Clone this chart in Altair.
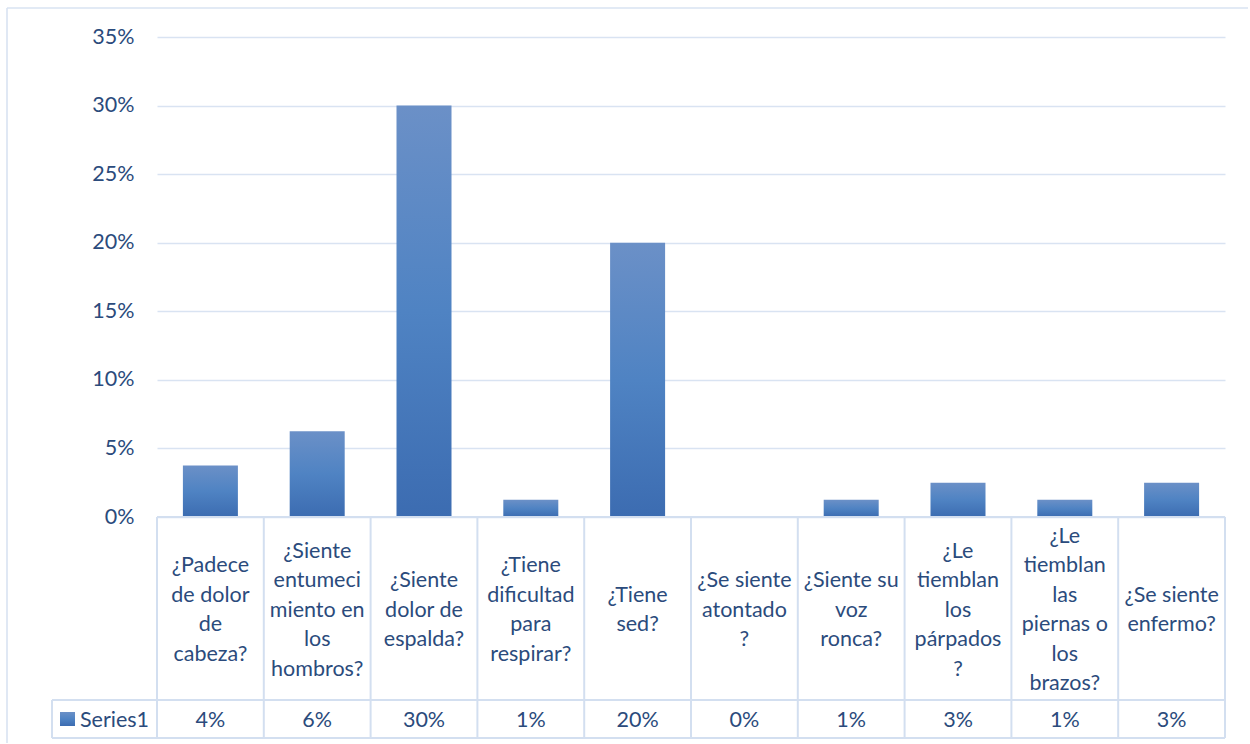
import altair as alt
import pandas as pd

# ---- data ----
questions = [
    "¿Padece de dolor de cabeza?",
    "¿Siente entumecimiento en los hombros?",
    "¿Siente dolor de espalda?",
    "¿Tiene dificultad para respirar?",
    "¿Tiene sed?",
    "¿Se siente atontado?",
    "¿Siente su voz ronca?",
    "¿Le tiemblan los párpados?",
    "¿Le tiemblan las piernas o los brazos?",
    "¿Se siente enfermo?",
]
label_lines = [
    ["¿Padece", "de dolor", "de", "cabeza?"],
    ["¿Siente", "entumeci", "miento en", "los", "hombros?"],
    ["¿Siente", "dolor de", "espalda?"],
    ["¿Tiene", "dificultad", "para", "respirar?"],
    ["¿Tiene", "sed?"],
    ["¿Se siente", "atontado", "?"],
    ["¿Siente su", "voz", "ronca?"],
    ["¿Le", "tiemblan", "los", "párpados", "?"],
    ["¿Le", "tiemblan", "las", "piernas o", "los", "brazos?"],
    ["¿Se siente", "enfermo?"],
]
values = [0.0375, 0.0625, 0.30, 0.0125, 0.20, 0.0, 0.0125, 0.025, 0.0125, 0.025]
series_name = "Series1"
y_ticks = [0, 0.05, 0.10, 0.15, 0.20, 0.25, 0.30, 0.35]

FONT = "Lato"
FS = 21.5
TXT = "#2B4B7C"
GRID = "#D9E3F2"
LINE = "#D3DFF0"
W, H = 1068, 480
TH = 221
LH = 29.5
LABEL_MID = 93.5
VAL_Y = 203.5

df = pd.DataFrame({
    "q": questions,
    "label": ["\n".join(l) for l in label_lines],
    "n": [len(l) for l in label_lines],
    "v": values,
})

grad = alt.Gradient(
    gradient="linear", x1=0, x2=0, y1=0, y2=1,
    stops=[alt.GradientStop(color="#6B90C7", offset=0),
           alt.GradientStop(color="#4F83C3", offset=0.5),
           alt.GradientStop(color="#3C6CB1", offset=1)],
)

one = alt.Chart(pd.DataFrame({"a": [0]}))

bars = alt.Chart(df).mark_bar(color=grad).encode(
    x=alt.X("q:N", sort=None, axis=None,
            scale=alt.Scale(paddingInner=0.485, paddingOuter=0.2425)),
    y=alt.Y("v:Q", scale=alt.Scale(domain=[0, 0.35], nice=False),
            axis=alt.Axis(values=y_ticks, format=".0%", title=None, domain=False,
                          ticks=False, labelPadding=23, labelFont=FONT,
                          labelFontSize=FS, labelColor=TXT, gridColor=GRID,
                          gridWidth=1.6)),
)

frame_left = one.mark_rule(color=GRID, strokeWidth=1.6).encode(
    x=alt.value(-150), y=alt.value(-29), y2=alt.value(706))
frame_top = one.mark_rule(color=GRID, strokeWidth=1.6).encode(
    x=alt.value(-150), x2=alt.value(1091), y=alt.value(-29))

top = alt.layer(frame_left, frame_top, bars).properties(width=W, height=H)

xs = alt.X("q:N", sort=None, axis=None, scale=alt.Scale(paddingInner=0, paddingOuter=0))

vlines = alt.Chart(df).mark_rule(color=LINE, strokeWidth=2).encode(
    x=alt.X("q:N", sort=None, axis=None, bandPosition=0,
            scale=alt.Scale(paddingInner=0, paddingOuter=0)),
    y=alt.value(0), y2=alt.value(TH))
rl = one.mark_rule(color=LINE, strokeWidth=2)
right_edge = rl.encode(x=alt.value(W), y=alt.value(0), y2=alt.value(TH))
top_line = rl.encode(x=alt.value(0), x2=alt.value(W), y=alt.value(0))
mid_line = rl.encode(x=alt.value(-105), x2=alt.value(W), y=alt.value(183))
bot_line = rl.encode(x=alt.value(-105), x2=alt.value(W), y=alt.value(TH))
leg_left = rl.encode(x=alt.value(-105), y=alt.value(183), y2=alt.value(TH))

labels = alt.Chart(df).transform_calculate(
    yy=f"{LABEL_MID} - (datum.n - 1) * {LH} / 2"
).mark_text(
    font=FONT, fontSize=FS, color=TXT, lineBreak="\n", lineHeight=LH,
    baseline="middle", align="center").encode(
    x=xs,
    y=alt.Y("yy:Q", axis=None, scale=alt.Scale(domain=[0, TH], range=[0, TH])),
    text="label:N")

vals = alt.Chart(df).mark_text(
    font=FONT, fontSize=FS, color=TXT, baseline="middle", align="center").encode(
    x=xs, y=alt.value(VAL_Y), text=alt.Text("v:Q", format=".0%"))

leg_sq = one.mark_rect(color=grad).encode(
    x=alt.value(-97), x2=alt.value(-82), y=alt.value(195), y2=alt.value(209))
leg_txt = alt.Chart(pd.DataFrame({"s": [series_name]})).mark_text(
    font=FONT, fontSize=FS, color=TXT, baseline="middle", align="left").encode(
    x=alt.value(-77), y=alt.value(VAL_Y), text="s:N")

table = alt.layer(vlines, right_edge, top_line, mid_line, bot_line, leg_left,
                  labels, vals, leg_sq, leg_txt).properties(width=W, height=TH)

chart = alt.vconcat(top, table, spacing=0, bounds="flush").resolve_scale(
    x="independent"
).properties(
    padding={"left": 6, "top": 7, "right": 0, "bottom": 0},
    background="white",
).configure_view(stroke=None)

chart.save("out.html", embed_options={"renderer": "svg", "actions": False})
